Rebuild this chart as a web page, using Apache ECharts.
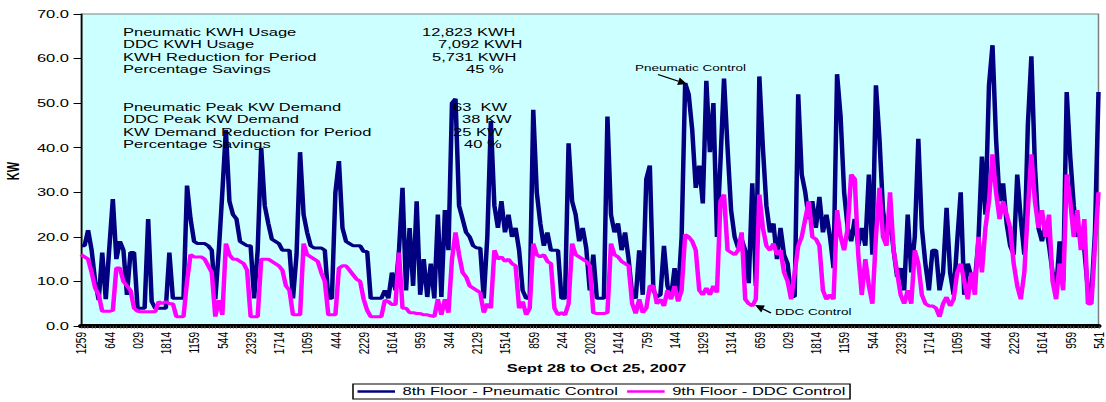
<!DOCTYPE html>
<html><head><meta charset="utf-8">
<script src="https://cdn.jsdelivr.net/npm/echarts@6/dist/echarts.min.js"></script>
<style>
html,body{margin:0;padding:0;background:#fff;overflow:hidden;}
#wrap{width:1106px;height:402px;overflow:hidden;position:relative;}
#c{width:737px;height:402px;transform:scaleX(1.500678);transform-origin:0 0;}
</style></head><body>
<div id="wrap"><div id="c"></div></div>
<script>
// ---- data ----
const tickLabels = ['1259','644','029','1814','1159','544','2329','1714','1059','444','2229','1614','959',
  '344','2129','1514','859','244','2029','1414','759','144','1929','1314','659','029','1814','1159',
  '544','2329','1714','1059','444','2229','1614','959','541'];
const pointsPerTick = 8;

const pneumatic = [
 18,18,21.5,17,10,5.8,16.5,6,17.5,28.5,
 15,19,17,7,16.5,16.5,4,4,4,24,
 5.5,4,4,4,4,16.5,6.2,6.2,6.2,6.2,
 31.5,24,19,18.5,18.5,18.5,18,17,6,17,
 30,44,28,25,24,19,18.5,18,18,6.2,
 17,40,27,23,19.5,19,18.5,17,17,17,
 6.2,16,39,25,21,18,17.5,17.5,17.5,17,
 6.2,6.2,30,37,22,19,18.5,18,18,18,
 16.7,16.7,6.2,6.2,6.2,6.2,8,6.2,12,8,
 17,31,8,22,9,28,7,15,6.5,14,
 6.2,25,6.5,26,17,50,51,27,24,21,
 20,18,17.5,17.5,6.2,20,46,27,22,28,
 21,25,20,22,17,8,6.2,6.2,48.5,30,
 23,18,21,17,17,17,6.2,6.2,41,28,
 25,19,22,17.5,8,16,6.2,6.2,6.2,47,
 25,21,23,17,21,15,7,6.2,17,7,
 33,36,8,6.5,7,18,9,6.5,13,7,
 20,54.5,52,44,31,36,27.5,55,39,50,
 20,37,55.5,40,26,20,17.5,19.5,17,9.6,
 32,9,56,40,27,21,23,15,22,16,
 14,6.6,6.6,52,34,30,24,28,22,29,
 21,25,20,13,56.5,47,30,22,19,24,
 18,22,18,34,16,54,42,26,20,24,
 17,11,13,8,25,12,20,42,22,14,
 8,17,17,8,12,26.5,12,7,19,30,
 7,14,11,10,19,38,25,54,63,42,
 28,32,23,18,16,34,24,16,45,60.5,
 36,22,19,23,18,12,8,19,10,52.5,
 38,27,20,22,17,8,7,21,52.5
];
const ddc = [
 16,15.5,15,12,8.5,7,3.3,3.3,3.3,3.5,
 13,13,10,9,8,4,3.3,3.2,3.2,3.2,
 3.2,3.2,5.5,5,5.5,5,5,2.1,2.1,2.1,
 10,16,15.5,15.5,15.5,15,13.5,12,2.1,5.8,
 2.5,18.5,16,15,15,14.5,14,12.5,2.1,2.1,
 2.1,15,15,15,14.5,14,13.5,12.5,9,8,
 2.5,2.5,2.5,18.5,16,15.5,15,14.5,12,10,
 2.5,2.5,2.5,13,13.5,13.5,12.5,11.5,10.5,10,
 6,3.5,2.1,2.1,2.1,2.1,5.8,5.5,4.8,4.8,
 16.5,4,4,3,3,2.8,2.8,2.5,2.5,2.3,
 2.1,6,2.5,6,3,15,21,16,12,11,
 9,8.5,8,7.5,3,5,4,17,15,15.5,
 14.5,15,14,13.5,4,5.5,2.5,4,18.5,16,
 15.5,16,14.5,14,4,2.5,3,2.5,5,18.5,
 16,15.5,15,14.5,13.5,3,2.8,2.8,2.8,3,
 18.5,16,15.5,14.5,14,13.5,5,2.8,6,3,
 4,9,9,5,6,4.5,8,6,9,5.5,
 8,20.5,20,19,17,8,7,8.5,7,9,
 7.5,28,29.5,17,16.5,16,17,21,6,5,
 4.5,6,29.5,22,18,17,18.5,16,17,12,
 10,6,12,18,20,24,28,20,19.5,18,
 8,6,7,6,26,20,17,22,34,33,
 16,7,15,9,5,20,31,20,18,30,
 17,12,7,5,8,5,17,14,7,5,
 4.5,4.5,4,2.1,5,6.5,4.5,6,12,14,
 10,6,12,7,20,12,22,28,38.5,30,
 24,28,25,22,14,9,6,12,26,38.5,
 28,22,26,20,25,10,6,14,8,34,
 28,20,26,17,24,5,5,18,30
];
const seriesNames = ['8th Floor - Pneumatic Control', '9th Floor - DDC Control'];
const statsTop = [
  ['Pneumatic KWH Usage', '12,823 KWH', 422],
  ['DDC KWH Usage', '7,092 KWH', 438],
  ['KWH Reduction for Period', '5,731 KWH', 432],
  ['Percentage Savings', '45 %', 466]
];
const statsBottom = [
  ['Pneumatic Peak KW Demand', '63  KW', 453],
  ['DDC Peak KW Demand', '38 KW', 462],
  ['KW Demand Reduction for Period', '25 KW', 453],
  ['Percentage Savings', '40 %', 464]
];

// ---- rendering ----
const S = 1106 / 737;            // horizontal stretch of the reference
const X = v => v / S;            // screen px -> chart px
const FONT = '"Liberation Sans", Arial, sans-serif';
const categories = pneumatic.map((_, i) => String(i));

const graphics = [];
function addText(txt, sx, y, size, bold, rot) {
  graphics.push({ type: 'text', x: X(sx), y: y, z: 100, rotation: rot || 0,
    style: { text: txt, font: (bold ? 'bold ' : '') + size + 'px ' + FONT, fill: '#000',
      verticalAlign: 'middle', align: rot ? 'center' : 'left' } });
}
statsTop.forEach((r, k) => { const y = 32 + k * 12.4; addText(r[0], 123, y, 11); addText(r[1], r[2], y, 11); });
statsBottom.forEach((r, k) => { const y = 107 + k * 12.4; addText(r[0], 123, y, 11); addText(r[1], r[2], y, 11); });
addText('Pneumatic Control', 635, 68, 9);
addText('DDC Control', 775, 311.5, 9);
addText('KW', 13, 171, 11, true, Math.PI / 2);
function arrow(x1, y1, x2, y2) {
  const dx = x2 - x1, dy = y2 - y1, L = Math.hypot(dx, dy), ux = dx / L, uy = dy / L;
  const bx = x2 - ux * 9, by = y2 - uy * 9;
  graphics.push({ type: 'line', z: 100, shape: { x1: X(x1), y1: y1, x2: X(bx), y2: by }, style: { stroke: '#000', lineWidth: 1.2 } });
  graphics.push({ type: 'polygon', z: 100, shape: { points: [[X(x2), y2], [X(bx - uy * 4), by + ux * 4], [X(bx + uy * 4), by - ux * 4]] }, style: { fill: '#000' } });
}
arrow(658, 74.5, 687, 84);
arrow(771, 313, 755, 305);

const chart = echarts.init(document.getElementById('c'), null, { renderer: 'svg', width: 737, height: 402 });
chart.setOption({
  animation: false,
  backgroundColor: '#ffffff',
  textStyle: { fontFamily: FONT },
  grid: { left: 54, right: 4, top: 14, bottom: 76, show: true, backgroundColor: '#ccffff', borderColor: '#808080', borderWidth: 1 },
  legend: {
    data: seriesNames, left: X(353), top: 384, icon: 'rect', itemWidth: 25, itemHeight: 2.5, itemGap: 6,
    padding: [2, 3, 2, 3], borderColor: '#000', borderWidth: 1,
    textStyle: { fontSize: 11, color: '#000', fontFamily: FONT }
  },
  xAxis: {
    type: 'category', data: categories, boundaryGap: false,
    name: 'Sept 28 to Oct 25, 2007', nameLocation: 'middle', nameGap: 37,
    nameTextStyle: { fontWeight: 'bold', fontSize: 11, color: '#000', fontFamily: FONT, padding: [0, 0, 0, 9] },
    axisLine: { lineStyle: { color: '#000', width: 4 } },
    axisTick: { show: true, interval: 0, length: 3, lineStyle: { color: '#777', width: 0.6 } },
    axisLabel: {
      interval: pointsPerTick - 1, rotate: 90, fontSize: 10, margin: 6, color: '#000', fontFamily: FONT,
      formatter: v => { const i = +v; return i % pointsPerTick === 0 ? tickLabels[i / pointsPerTick] : ''; }
    },
    splitLine: { show: false }
  },
  yAxis: {
    type: 'value', min: 0, max: 70, interval: 10,
    axisLine: { show: true, lineStyle: { color: '#000', width: 1 } },
    axisTick: { show: true, length: 5, lineStyle: { color: '#000' } },
    axisLabel: { formatter: v => v.toFixed(1), fontSize: 11, color: '#000', margin: 8, fontFamily: FONT },
    splitLine: { show: false }
  },
  series: [
    { name: seriesNames[0], type: 'line', data: pneumatic, showSymbol: false, symbol: 'none', color: '#000080',
      lineStyle: { color: '#000080', width: 3 }, z: 2 },
    { name: seriesNames[1], type: 'line', data: ddc, showSymbol: false, symbol: 'none', color: '#ff00ff',
      lineStyle: { color: '#ff00ff', width: 3 }, z: 3 }
  ],
  graphic: graphics
});
</script>
</body></html>
